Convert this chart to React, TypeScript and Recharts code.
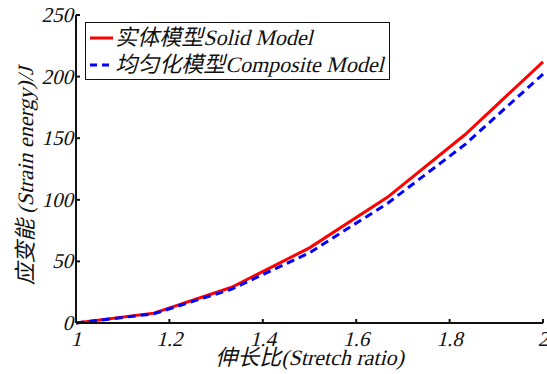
import { LineChart, Line, XAxis, YAxis } from 'recharts'

const stretch = [1, 1.1667, 1.3333, 1.5, 1.6667, 1.8333, 2]
const solidModel = [0, 8, 29, 61, 102, 153, 212]
const compositeModel = [0, 7.5, 27.5, 57, 97, 145, 202]
const xTicks = [1, 1.2, 1.4, 1.6, 1.8, 2]
const yTicks = [0, 50, 100, 150, 200, 250]

const data = stretch.map((s, i) => ({ s, solid: solidModel[i], composite: compositeModel[i] }))

// serif italic isn't installed, so fake it with a skew on the regular face
const serif = "'Liberation Serif', 'Noto Sans CJK SC'"
const SKEW = -14

// text drawn at its baseline (y=0) so the skew doesn't shift it sideways
const XTick = ({ x, payload }: any) => (
  <text
    transform={`translate(${x},346) skewX(${SKEW})`}
    textAnchor="middle"
    fontSize={21}
    fontFamily={serif}
    fill="#111"
  >
    {String(payload.value)}
  </text>
)

const YTick = ({ x, y, payload }: any) => (
  <text
    transform={`translate(${x},${y + 7}) skewX(${SKEW})`}
    textAnchor="end"
    fontSize={21}
    fontFamily={serif}
    fill="#111"
  >
    {String(payload.value)}
  </text>
)

const XLabel = ({ viewBox }: any) => (
  <text
    transform={`translate(${viewBox.x + viewBox.width / 2},365) skewX(${SKEW})`}
    textAnchor="middle"
    fontSize={22}
    fontFamily={serif}
    fill="#111"
  >
    伸长比(Stretch ratio)
  </text>
)

const YLabel = ({ viewBox }: any) => (
  <text
    transform={`translate(33,${viewBox.y + viewBox.height / 2 + 7}) rotate(-90) skewX(${SKEW})`}
    textAnchor="middle"
    fontSize={22}
    fontFamily={serif}
    fill="#111"
  >
    应变能 (Strain energy)/J
  </text>
)

function LegendBox() {
  const row = (color: string, dash: string | undefined, label: string) => (
    <div style={{ display: 'flex', alignItems: 'center', height: 27 }}>
      <svg width={27} height={10} style={{ marginRight: 2 }}>
        <line x1={2} y1={5} x2={25} y2={5} stroke={color} strokeWidth={3} strokeDasharray={dash} />
      </svg>
      <span style={{ display: 'inline-block', transform: `skewX(${SKEW}deg)`, whiteSpace: 'nowrap' }}>{label}</span>
    </div>
  )
  return (
    <div
      style={{
        position: 'absolute',
        left: 85,
        top: 22,
        border: '1.5px solid #111',
        background: '#fff',
        width: 305,
        height: 58,
        boxSizing: 'border-box',
        padding: '1px 0 0 2px',
        fontFamily: serif,
        fontSize: 22,
        color: '#111',
        lineHeight: '22px',
      }}
    >
      {row('#ff0000', undefined, '实体模型Solid Model')}
      {row('#0000ff', '7 5', '均匀化模型Composite Model')}
    </div>
  )
}

export default function App() {
  return (
    <div style={{ position: 'absolute', left: 0, top: 0, width: 547, height: 374, background: '#fff' }}>
      <LineChart width={547} height={374} data={data} margin={{ top: 15, right: 4, bottom: 0, left: 0 }}>
        <XAxis
          xAxisId="b"
          dataKey="s"
          type="number"
          domain={[1, 2]}
          ticks={xTicks}
          height={51}
          tick={<XTick />}
          tickSize={-4}
          tickMargin={8}
          stroke="#111"
          strokeWidth={2}
          label={XLabel}
        />
        <XAxis
          xAxisId="t"
          dataKey="s"
          type="number"
          orientation="top"
          domain={[1, 2]}
          ticks={xTicks}
          height={0}
          tick={false}
          tickSize={-4}
          stroke="#111"
          strokeWidth={1.5}
        />
        <YAxis
          yAxisId="l"
          domain={[0, 250]}
          ticks={yTicks}
          width={76}
          tick={<YTick />}
          tickSize={-4}
          tickMargin={7}
          stroke="#111"
          strokeWidth={2}
          label={YLabel}
        />
        <YAxis
          yAxisId="r"
          orientation="right"
          domain={[0, 250]}
          ticks={yTicks}
          width={0}
          tick={false}
          tickSize={-4}
          stroke="#111"
          strokeWidth={1.5}
        />
        <Line
          xAxisId="b"
          yAxisId="l"
          dataKey="solid"
          stroke="#ff0000"
          strokeWidth={3}
          dot={false}
          isAnimationActive={false}
        />
        <Line
          xAxisId="b"
          yAxisId="l"
          dataKey="composite"
          stroke="#0000ff"
          strokeWidth={3}
          strokeDasharray="8 5"
          dot={false}
          isAnimationActive={false}
        />
      </LineChart>
      <LegendBox />
    </div>
  )
}
